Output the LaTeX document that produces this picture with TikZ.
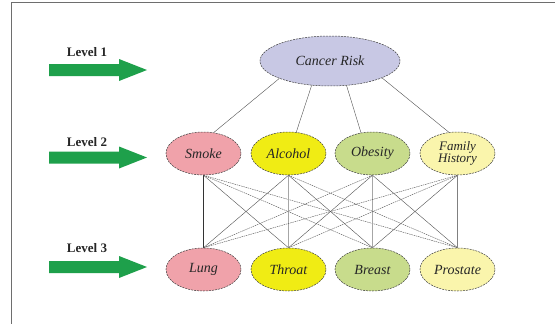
\documentclass[tikz,border=0pt]{standalone}
\usepackage{fontspec}
\setmainfont{Liberation Serif}
\newfontfamily\timesfont{Liberation Serif}
\usetikzlibrary{shapes.geometric}
\definecolor{arrowgreen}{RGB}{30,160,75}
\definecolor{crfill}{RGB}{200,200,228}
\definecolor{pinkfill}{RGB}{240,162,170}
\definecolor{yellowfill}{RGB}{240,236,20}
\definecolor{greenfill}{RGB}{200,220,140}
\definecolor{paleyellow}{RGB}{250,245,172}
\definecolor{framegray}{RGB}{110,110,110}
\definecolor{edgegray}{RGB}{80,80,80}
\tikzset{
  oval/.style={ellipse, draw=black!75, dash pattern=on 2pt off 1pt, line width=0.5pt,
    minimum width=75pt, minimum height=43pt, inner sep=0pt, text=black!85,
    font=\timesfont\fontsize{14}{14}\selectfont\itshape},
  levellabel/.style={font=\timesfont\fontsize{13}{13}\selectfont\bfseries, inner sep=0pt, text=black!85},
  link/.style={draw=edgegray, line width=0.4pt},
  longlink/.style={draw=edgegray, line width=0.4pt, dash pattern=on 1.5pt off 0.8pt},
  levelarrow/.pic={\fill[arrowgreen] (0,-6) -- (70,-6) -- (70,-11) -- (98,0) -- (70,11) -- (70,6) -- (0,6) -- cycle;}
}
\begin{document}
\begin{tikzpicture}[x=1pt,y=-1pt]
\useasboundingbox (0,0) rectangle (555,324);
\fill[white] (0,0) rectangle (555,324);
\draw[framegray, line width=1pt] (555,2) -- (11,2) -- (11,324);

% level labels and arrows
\node[levellabel] (l1) at (87,52) {Level 1};
\node[levellabel] (l2) at (87,142) {Level 2};
\node[levellabel] (l3) at (87,248) {Level 3};
\pic at (49,70) {levelarrow};
\pic at (49,157.5) {levelarrow};
\pic at (49,267) {levelarrow};

% nodes
\node[oval, fill=crfill, minimum width=140pt, minimum height=50pt] (cr) at (330,61) {Cancer Risk};
\node[oval, fill=pinkfill] (smoke) at (203.5,153.5) {Smoke};
\node[oval, fill=yellowfill] (alcohol) at (288.5,153.5) {Alcohol};
\node[oval, fill=greenfill] (obesity) at (372.5,153.5) {Obesity};
\node[oval, fill=paleyellow, align=center, font=\timesfont\fontsize{13}{12}\selectfont\itshape] (family) at (457.5,153.5) {Family\\History};
\node[oval, fill=pinkfill] (lung) at (203.5,269.5) {Lung};
\node[oval, fill=yellowfill] (throat) at (288.5,269.5) {Throat};
\node[oval, fill=greenfill] (breast) at (372.5,269.5) {Breast};
\node[oval, fill=paleyellow] (prostate) at (457.5,269.5) {Prostate};

% level 1 to level 2
\draw[link] (cr.199) -- (smoke.64);
\draw[link] (cr.233) -- (alcohol.70);
\draw[link] (cr.304) -- (obesity.119);
\draw[link] (cr.342) -- (family.112);

% level 2 to level 3
\draw[link, draw=black!80] (smoke.south) -- (lung.north);
\draw[link] (smoke.south) -- (throat.north);
\draw[longlink] (smoke.south) -- (breast.north);
\draw[longlink] (smoke.south) -- (prostate.north);
\draw[link] (alcohol.south) -- (lung.north);
\draw[link, draw=black!35] (alcohol.south) -- (throat.north);
\draw[link] (alcohol.south) -- (breast.north);
\draw[longlink] (alcohol.south) -- (prostate.north);
\draw[longlink] (obesity.south) -- (lung.north);
\draw[link] (obesity.south) -- (throat.north);
\draw[link, draw=black!35] (obesity.south) -- (breast.north);
\draw[link] (obesity.south) -- (prostate.north);
\draw[longlink] (family.south) -- (lung.north);
\draw[longlink] (family.south) -- (throat.north);
\draw[link] (family.south) -- (breast.north);
\draw[link, draw=black!50, line width=1.2pt] (family.south) -- (prostate.north);
\end{tikzpicture}
\end{document}
